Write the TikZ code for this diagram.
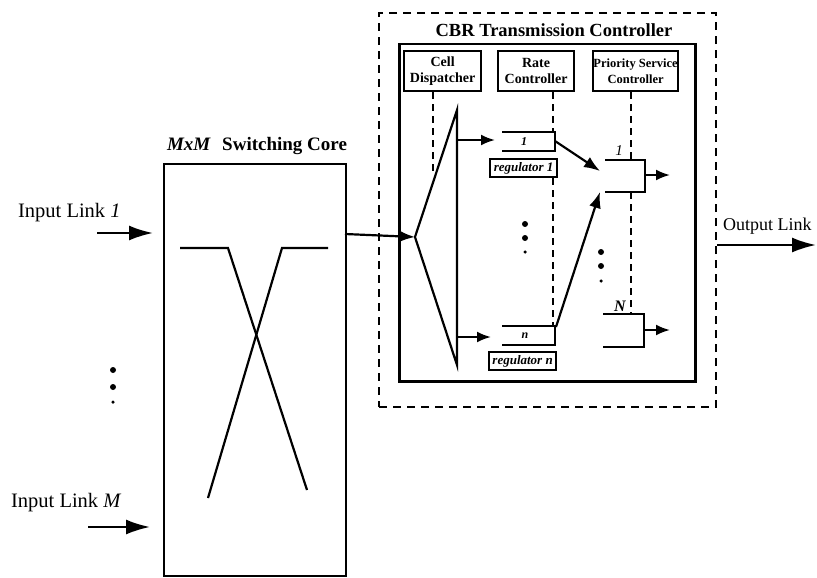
\documentclass[tikz,border=0pt]{standalone}
\usepackage{fontspec}
\setmainfont{Liberation Serif}
\usetikzlibrary{arrows.meta}
\begin{document}
\begin{tikzpicture}[x=1pt,y=-1pt,
  line width=2.2pt, line join=miter,
  bigarrow/.style={-{Latex[length=24pt,width=15pt]}},
  midarrow/.style={-{Latex[length=16pt,width=12pt]}},
  smallarrow/.style={-{Latex[length=14pt,width=11pt]}},
  ctrlbox/.style={draw,line width=2.2pt,anchor=north west,inner sep=0pt,minimum height=40pt,align=center,font=\fontsize{14}{16}\selectfont\bfseries},
  regbox/.style={draw,line width=2.2pt,anchor=north west,inner sep=0pt,minimum width=67pt,minimum height=18pt,font=\fontsize{13}{13}\selectfont\bfseries\itshape},
  ctrldash/.style={line width=2.2pt,dash pattern=on 7pt off 5pt},
  dotb/.style={circle,fill,inner sep=0pt,minimum size=6pt},
  dots/.style={circle,fill,inner sep=0pt,minimum size=3.5pt},
  lbl/.style={anchor=base west,inner sep=0pt}
]
\useasboundingbox (0,0) rectangle (817,578);

% Switching core
\node[anchor=base,inner sep=0pt,font=\fontsize{19}{21}\selectfont\bfseries] (coretitle) at (257,150) {\textit{MxM}\hspace{0.6em}Switching Core};
\node[draw,line width=2pt,anchor=north west,minimum width=182pt,minimum height=412pt,inner sep=0pt] (core) at (163,163) {};
\draw (180,248) -- (228,248) -- (307,490);
\draw (328,248) -- (282,248) -- (208,498);

% inputs
\node[lbl,font=\fontsize{20.5}{22}\selectfont] (in1lbl) at (17,217) {Input Link \textit{1}};
\node[lbl,font=\fontsize{20.5}{22}\selectfont] (inMlbl) at (10,507) {Input Link \textit{M}};
\coordinate (in1s) at (97,233);
\coordinate (in1e) at (153,233);
\coordinate (inMs) at (88,527);
\coordinate (inMe) at (150,527);
\draw[bigarrow] (in1s) -- (in1e);
\draw[bigarrow] (inMs) -- (inMe);
\node[dotb] (cd1) at (113,370) {};
\node[dotb] (cd2) at (113,387) {};
\node[dots] (cd3) at (113,402) {};

% CBR controller
\node[draw,dash pattern=on 8pt off 6pt,line width=2.2pt,anchor=north west,minimum width=337pt,minimum height=394pt,inner sep=0pt] (cbr) at (378,12) {};
\node[anchor=base,inner sep=0pt,font=\fontsize{18.5}{20}\selectfont\bfseries] (cbrtitle) at (554,37) {CBR Transmission Controller};
\node[draw,line width=2.5pt,anchor=north west,minimum width=296pt,minimum height=337pt,inner sep=0pt] (inner) at (398,43) {};

\node[ctrlbox,minimum width=77pt] (celld) at (403,50) {Cell\\Dispatcher};
\node[ctrlbox,minimum width=76pt] (ratec) at (497,50) {Rate\\Controller};
\node[ctrlbox,minimum width=85pt,font=\fontsize{12.5}{16}\selectfont\bfseries] (prioc) at (592,50) {Priority Service\\Controller};

% dispatcher triangle
\coordinate (apex) at (415,237);
\coordinate (ttop) at (457,110);
\coordinate (tbot) at (457,365);
\draw (apex) -- (ttop) -- (tbot) -- cycle;

\coordinate (coreout) at (345,234);
\draw[midarrow] (coreout) -- (apex);

% buffers
\draw (502,132) -- (555,132) -- (555,151) -- (502,151);
\node[inner sep=0pt,font=\fontsize{12}{12}\selectfont\bfseries\itshape] (b1lbl) at (524,142) {1};
\draw (502,326) -- (555,326) -- (555,345) -- (502,345);
\node[inner sep=0pt,font=\fontsize{12}{12}\selectfont\bfseries\itshape] (bnlbl) at (525,336) {n};
\node[regbox] (reg1) at (489,158) {regulator 1};
\node[regbox] (regn) at (488,351) {regulator n};

\coordinate (t1) at (457,140);
\coordinate (b1in) at (495,140);
\coordinate (tn) at (457,337);
\coordinate (bnin) at (491,337);
\draw[smallarrow] (t1) -- (b1in);
\draw[smallarrow] (tn) -- (bnin);

% priority queues
\draw (605,160) -- (645,160) -- (645,192) -- (605,192);
\node[inner sep=0pt,font=\fontsize{15}{15}\selectfont\itshape] (q1lbl) at (619,151) {1};
\draw (603,314) -- (644,314) -- (644,347) -- (603,347);
\node[inner sep=0pt,font=\fontsize{16}{16}\selectfont\bfseries\itshape] (qNlbl) at (620,306) {N};

\coordinate (b1out) at (555,141);
\coordinate (q1in) at (600,171);
\coordinate (bnout) at (556,327);
\coordinate (q1inb) at (600,192);
\draw[midarrow] (b1out) -- (q1in);
\draw[midarrow] (bnout) -- (q1inb);

\coordinate (q1o) at (645,175);
\coordinate (q1oe) at (670,175);
\coordinate (qNo) at (644,330);
\coordinate (qNoe) at (670,330);
\draw[smallarrow] (q1o) -- (q1oe);
\draw[smallarrow] (qNo) -- (qNoe);

% dashed control lines
\draw[ctrldash] (celld.south -| 433,0) -- (433,175);
\draw[ctrldash] (ratec.south -| 553,0) -- (553,132);
\draw[ctrldash] (reg1.south -| 553,0) -- (553,326);
\draw[ctrldash] (prioc.south -| 631,0) -- (631,160);
\draw[ctrldash] (631,192) -- (631,314);

% dots
\node[dotb] (d1) at (525,224) {};
\node[dotb] (d2) at (525,238) {};
\node[dots] (d3) at (525,252) {};
\node[dotb] (e1) at (601,252) {};
\node[dotb] (e2) at (601,266) {};
\node[dots] (e3) at (601,281) {};

% output
\node[lbl,font=\fontsize{18}{20}\selectfont] (outlbl) at (722,230) {Output Link};
\coordinate (outs) at (717,245);
\coordinate (oute) at (816,245);
\draw[bigarrow] (outs) -- (oute);
\end{tikzpicture}
\end{document}
